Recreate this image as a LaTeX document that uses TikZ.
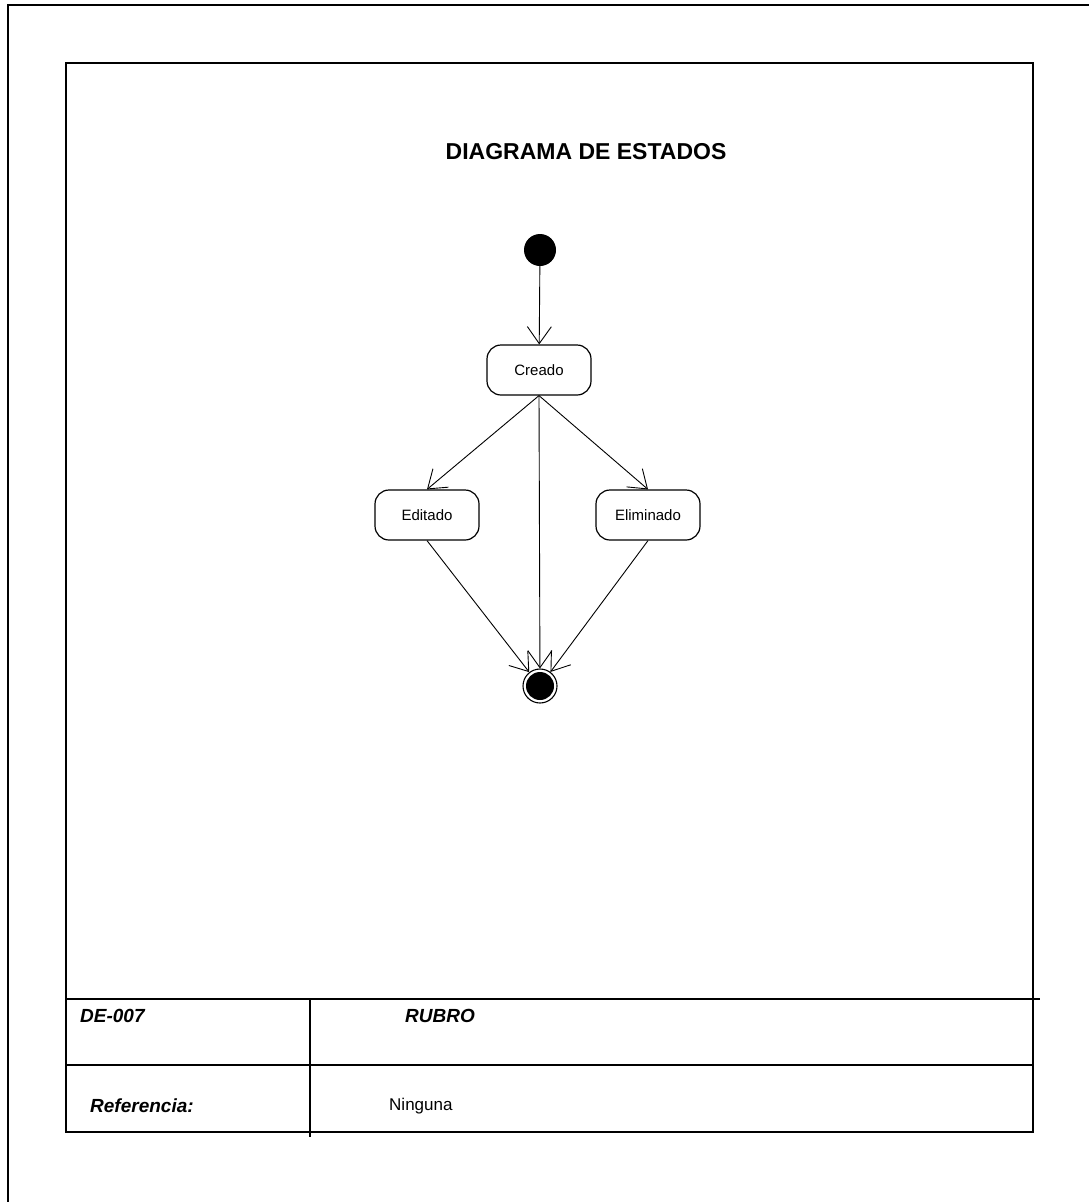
\documentclass[tikz,border=0pt]{standalone}
\usepackage{fontspec}
\setmainfont{Liberation Sans}
\usetikzlibrary{arrows.meta}
\begin{document}
\begin{tikzpicture}[x=1pt,y=-1pt,
  frame/.style={line width=1.3pt},
  state/.style={draw,line width=1.2pt,rounded corners=14pt,minimum width=104pt,minimum height=50pt,font=\fontsize{15}{18}\selectfont,inner sep=0pt},
  trans/.style={line width=0.9pt,-{Straight Barb[length=17pt,width=24pt,line width=0.9pt]}},
  lbl/.style={font=\fontsize{19}{22}\selectfont\bfseries\itshape,inner sep=0pt},
]
\useasboundingbox (0,0) rectangle (1089,1202);
% outer frame
\draw[frame] (8,1202) -- (8,5) -- (1089,5);
% inner frame
\draw[frame] (66,63) rectangle (1033,1132);
\draw[frame] (66,999) -- (1040,999);
\draw[frame] (66,1065) -- (1033,1065);
\draw[frame] (310,999) -- (310,1137);
% title
\node[font=\fontsize{23}{27}\selectfont\bfseries] (title) at (586,152) {DIAGRAMA DE ESTADOS};
% states
\node[circle,fill=black,minimum size=32pt,inner sep=0pt] (init) at (540,250) {};
\node[state] (creado) at (539,370) {Creado};
\node[state] (editado) at (427,515) {Editado};
\node[state] (elim) at (648,515) {Eliminado};
\node[circle,draw,line width=1.1pt,minimum size=34pt,inner sep=0pt] (final) at (540,686) {};
\node[circle,fill=black,minimum size=28pt,inner sep=0pt] (finalin) at (540,686) {};
% transitions
\draw[trans] (init) -- (creado);
\draw[trans] (creado.south) -- (editado.north);
\draw[trans] (creado.south) -- (elim.north);
\draw[trans] (creado.south) -- (final);
\draw[trans] (editado.south) -- (final);
\draw[trans] (elim.south) -- (final);
% table texts
\node[lbl,anchor=west] (code) at (80,1016) {DE-007};
\node[lbl] (rubro) at (440,1016) {RUBRO};
\node[lbl,anchor=west] (ref) at (90,1106) {Referencia:};
\node[font=\fontsize{17}{20}\selectfont,anchor=west,inner sep=0pt] (ning) at (389,1106) {Ninguna};
\end{tikzpicture}
\end{document}
